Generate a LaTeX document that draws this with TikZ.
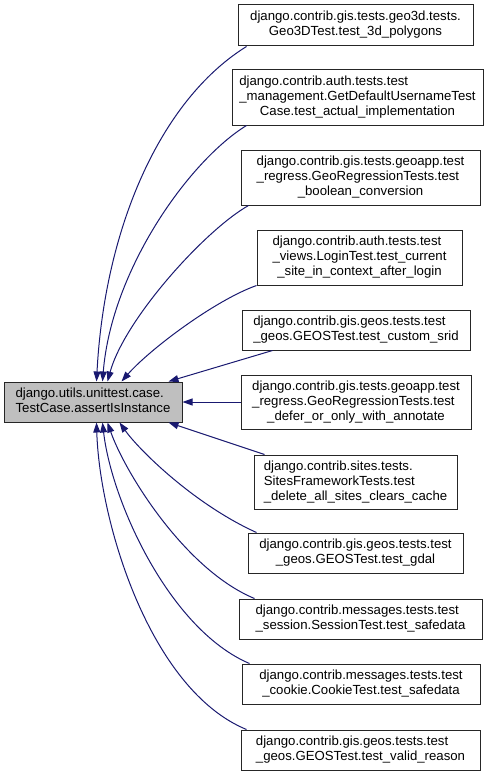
\documentclass[tikz,border=0pt]{standalone}
\usepackage{fontspec}
\setmainfont{Liberation Sans}
\usetikzlibrary{arrows.meta, positioning, calc}
\definecolor{edgeblue}{HTML}{191970}
\definecolor{maingray}{HTML}{BFBFBF}

% label with left-aligned lines and a centred last line
\newcommand{\dlab}[2]{%
  \begin{tabular}{@{}l@{}}#1\\\multicolumn{1}{@{}c@{}}{#2}\end{tabular}}

\begin{document}
\begin{tikzpicture}[
  x=1pt, y=-1pt,
  font=\fontsize{13.2}{15}\selectfont,
  >={Triangle[length=10pt,width=7pt]},
  %--- node styles ---
  fnbox/.style={
    draw=black!85, fill=white, rectangle,
    inner sep=0pt, align=center, line width=1pt
  },
  mainbox/.style={
    fnbox, fill=maingray
  },
  %--- edge style ---
  calls/.style={
    ->, edgeblue, line width=1pt
  }
]

\useasboundingbox (0,0) rectangle (488,776);

%------------------------------------------------------------------
%  Called function (left)
%------------------------------------------------------------------
\node[mainbox, minimum width=178pt, minimum height=40pt] (main) at (93,402)
  {\dlab{django.utils.unittest.case.}{TestCase.assertIsInstance}};

%------------------------------------------------------------------
%  Callers (right column, top to bottom)
%------------------------------------------------------------------
\node[fnbox, minimum width=235pt, minimum height=41pt] (geo3d)   at (355.5,25.5)
  {\dlab{django.contrib.gis.tests.geo3d.tests.}{Geo3DTest.test\_3d\_polygons}};
\node[fnbox, minimum width=251pt, minimum height=55pt] (usrname) at (357.5,97.5)
  {\dlab{django.contrib.auth.tests.test\\\_management.GetDefaultUsernameTest}{Case.test\_actual\_implementation}};
\node[fnbox, minimum width=239pt, minimum height=55pt] (boolconv) at (360.5,177.5)
  {\dlab{django.contrib.gis.tests.geoapp.test\\\_regress.GeoRegressionTests.test}{\_boolean\_conversion}};
\node[fnbox, minimum width=205pt, minimum height=55pt] (login)   at (359.5,257.5)
  {\dlab{django.contrib.auth.tests.test\\\_views.LoginTest.test\_current}{\_site\_in\_context\_after\_login}};
\node[fnbox, minimum width=228pt, minimum height=40pt] (srid)    at (356,330)
  {\dlab{django.contrib.gis.geos.tests.test}{\_geos.GEOSTest.test\_custom\_srid}};
\node[fnbox, minimum width=230pt, minimum height=54pt] (defer)   at (356,402)
  {\dlab{django.contrib.gis.tests.geoapp.test\\\_regress.GeoRegressionTests.test}{\_defer\_or\_only\_with\_annotate}};
\node[fnbox, minimum width=203pt, minimum height=54pt] (sites)   at (355.5,482)
  {\dlab{django.contrib.sites.tests.\\SitesFrameworkTests.test}{\_delete\_all\_sites\_clears\_cache}};
\node[fnbox, minimum width=215pt, minimum height=40pt] (gdal)    at (355.5,553)
  {\dlab{django.contrib.gis.geos.tests.test}{\_geos.GEOSTest.test\_gdal}};
\node[fnbox, minimum width=243pt, minimum height=40pt] (session) at (360.5,619)
  {\dlab{django.contrib.messages.tests.test}{\_session.SessionTest.test\_safedata}};
\node[fnbox, minimum width=238pt, minimum height=40pt] (cookie)  at (361,684)
  {\dlab{django.contrib.messages.tests.test}{\_cookie.CookieTest.test\_safedata}};
\node[fnbox, minimum width=239pt, minimum height=40pt] (valid)   at (360.5,750)
  {\dlab{django.contrib.gis.geos.tests.test}{\_geos.GEOSTest.test\_valid\_reason}};

%------------------------------------------------------------------
%  Call edges into the top of the called function
%------------------------------------------------------------------
\draw[calls] ($(geo3d.south west)+(9,0)$)
  .. controls +(-87,54) and +(8,-152) .. ($(main.north west)+(93,0)$);
\draw[calls] ($(usrname.south west)+(15,0)$)
  .. controls +(-57,35) and +(9,-112) .. ($(main.north west)+(99,0)$);
\draw[calls] ($(boolconv.south west)+(8,0)$)
  .. controls +(-44,25) and +(17,-62) .. ($(main.north west)+(104,0)$);
\draw[calls] (login.south west)
  .. controls +(-42,15) and +(28,-32) .. ($(main.north west)+(118,0)$);
\draw[calls] ($(srid.south west)+(31,0)$) -- ($(main.north east)+(-14,0)$);

%------------------------------------------------------------------
%  Call edges into the side and bottom
%------------------------------------------------------------------
\draw[calls] (defer.west) -- (main.east);
\draw[calls] ($(sites.north west)+(11,0)$) -- ($(main.south east)+(-14,0)$);
\draw[calls] ($(gdal.north west)+(9,0)$)
  .. controls +(-62,-28) and +(20,28) .. ($(main.south west)+(116,0)$);
\draw[calls] ($(session.north west)+(16,0)$)
  .. controls +(-70,-29) and +(17,49) .. ($(main.south west)+(104,0)$);
\draw[calls] ($(cookie.north west)+(8,0)$)
  .. controls +(-80,-34) and +(9,79) .. ($(main.south west)+(99,0)$);
\draw[calls] ($(valid.north west)+(6,0)$)
  .. controls +(-97,-40) and +(3,99) .. ($(main.south west)+(93,0)$);

\end{tikzpicture}
\end{document}
